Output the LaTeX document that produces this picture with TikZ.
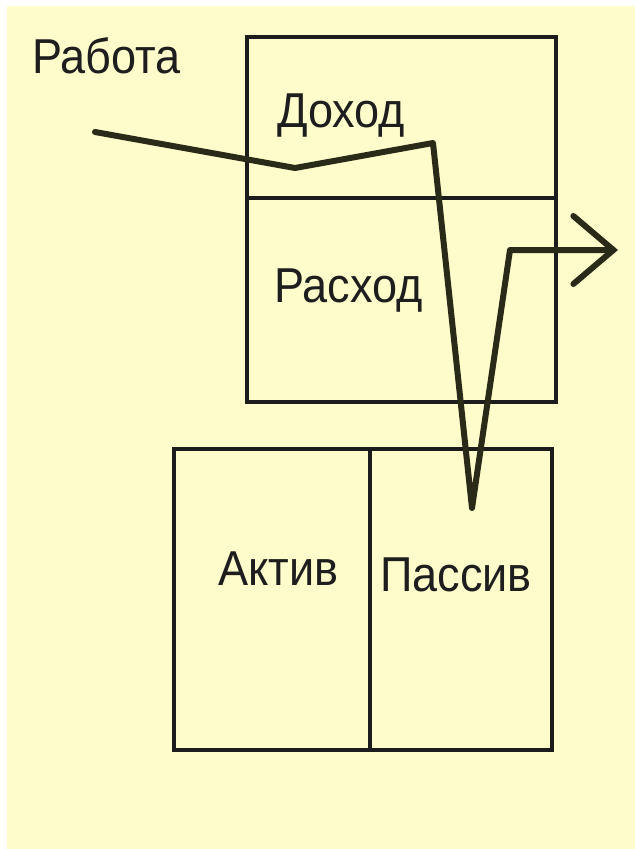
\documentclass[tikz,border=0pt]{standalone}
\usepackage{fontspec}
\setmainfont{Liberation Sans}
\usetikzlibrary{arrows.meta}
\definecolor{bgyellow}{HTML}{FFFCCC}
\definecolor{inkline}{HTML}{2A2A18}
\definecolor{boxline}{HTML}{1C1C1C}
\definecolor{txt}{HTML}{1E1E1E}
\tikzset{
  boxcell/.style={draw=boxline, line width=3.2pt, inner sep=0pt, outer sep=0pt, anchor=north west},
  lbl/.style={anchor=base west, inner sep=0pt, text=txt, font=\fontsize{49}{49}\selectfont, xscale=0.92},
  flow/.style={draw=inkline, line width=6pt, line cap=round, line join=round},
}
\begin{document}
\begin{tikzpicture}[x=1pt, y=-1pt]
\useasboundingbox (0,0) rectangle (635,849);
\fill[white] (0,0) rectangle (635,849);
\fill[bgyellow] (7,6) rectangle (635,849);

% boxes
\node[boxcell, minimum width=309pt, minimum height=161pt] (income) at (247,37) {};
\node[boxcell, minimum width=309pt, minimum height=204pt] (expense) at (247,198) {};
\node[boxcell, minimum width=196pt, minimum height=301pt] (assets) at (174,449) {};
\node[boxcell, minimum width=182pt, minimum height=301pt] (liab) at (370,449) {};

% labels
\node[lbl] (work) at (32,73) {Работа};
\node[lbl] (inctext) at (277,127) {Доход};
\node[lbl] (exptext) at (274,302) {Расход};
\node[lbl] (asstext) at (218,585) {Актив};
\node[lbl] (liatext) at (380,591) {Пассив};

% flow line
\coordinate (start) at (95,132);
\coordinate (dip) at (295,168);
\coordinate (peak) at (433,143);
\coordinate (bottom) at (472,508);
\coordinate (rise) at (510,250);
\coordinate (tip) at (618,250);
\draw[flow, -{Straight Barb[length=40pt, width=68pt, line cap=round]}]
  (start) -- (dip) -- (peak) -- (bottom) -- (rise) -- (tip);
\end{tikzpicture}
\end{document}
